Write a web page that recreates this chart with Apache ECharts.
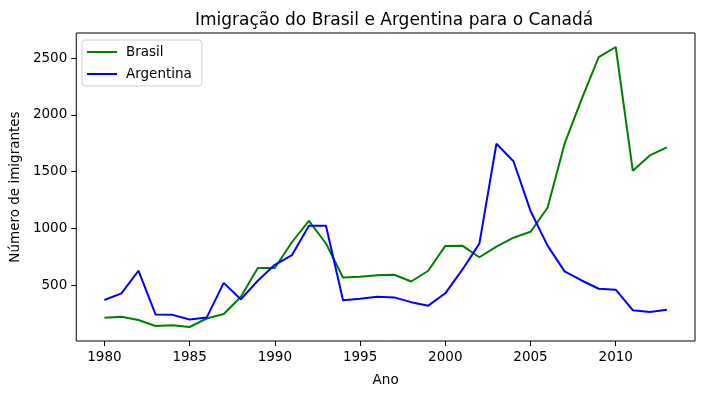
<!DOCTYPE html>
<html>
<head>
<meta charset="utf-8">
<script src="https://cdn.jsdelivr.net/npm/echarts@6/dist/echarts.min.js"></script>
<style>html,body{margin:0;padding:0;background:#fff}#c{width:704px;height:394px}</style>
</head>
<body>
<div id="c"></div>
<script>
const years = [1980,1981,1982,1983,1984,1985,1986,1987,1988,1989,1990,1991,1992,1993,1994,1995,1996,1997,1998,1999,2000,2001,2002,2003,2004,2005,2006,2007,2008,2009,2010,2011,2012,2013];
const brasil = [211,220,192,139,145,130,205,244,394,650,650,877,1066,866,566,572,586,591,531,626,845,847,745,839,917,969,1181,1746,2138,2509,2598,1508,1642,1714];
const argentina = [368,426,626,241,237,196,213,519,374,538,678,763,1023,1022,366,380,396,391,349,318,427,635,865,1745,1591,1153,847,620,540,467,459,278,263,282];
const xTicks = [1980,1985,1990,1995,2000,2005,2010];
const yTicks = [500,1000,1500,2000,2500];

const FONT = 'DejaVu Sans';
const FS = 13.5;
const chart = echarts.init(document.getElementById('c'), null, {renderer:'canvas'});
const pairs = v => years.map((y,i)=>[y, v[i]]);
chart.setOption({
  animation:false,
  backgroundColor:'#fff',
  textStyle:{fontFamily:FONT},
  title:{text:'Imigração do Brasil e Argentina para o Canadá', left:190, top:7,
    textStyle:{fontFamily:FONT, fontSize:17, fontWeight:'normal', color:'#000'}},
  grid:{left:75, right:9, top:33, bottom:53, show:true, borderColor:'#000', borderWidth:1, backgroundColor:'transparent'},
  legend:{orient:'vertical', left:82, top:40, padding:[5,10,5,5], itemGap:8, itemWidth:30, itemHeight:2,
    icon:'rect', backgroundColor:'#fff', borderColor:'#d0d0d0', borderWidth:1, borderRadius:3,
    textStyle:{fontFamily:FONT, fontSize:FS, color:'#000', padding:[0,0,0,4]},
    data:['Brasil','Argentina']},
  xAxis:{type:'value', min:1978.35, max:2014.65, name:'Ano', nameLocation:'middle', nameGap:32,
    nameTextStyle:{fontFamily:FONT, fontSize:FS, color:'#000'},
    splitLine:{show:false},
    axisLine:{show:false},
    axisTick:{show:true, customValues:xTicks, length:5, lineStyle:{color:'#000'}},
    axisLabel:{customValues:xTicks, formatter:v=>String(v), fontFamily:FONT, fontSize:FS, color:'#000', margin:9}},
  yAxis:{type:'value', min:6.6, max:2721.4, name:'Número de imigrantes', nameLocation:'middle', nameGap:50,
    nameTextStyle:{fontFamily:FONT, fontSize:FS, color:'#000'},
    splitLine:{show:false},
    axisLine:{show:false},
    axisTick:{show:true, customValues:yTicks, length:5, lineStyle:{color:'#000'}},
    axisLabel:{customValues:yTicks, formatter:v=>String(v), fontFamily:FONT, fontSize:FS, color:'#000', margin:9}},
  series:[
    {name:'Brasil', type:'line', data:pairs(brasil), symbol:'none', color:'#008000', lineStyle:{width:2, color:'#008000'}},
    {name:'Argentina', type:'line', data:pairs(argentina), symbol:'none', color:'#0000ff', lineStyle:{width:2, color:'#0000ff'}}
  ]
});
</script>
</body>
</html>
